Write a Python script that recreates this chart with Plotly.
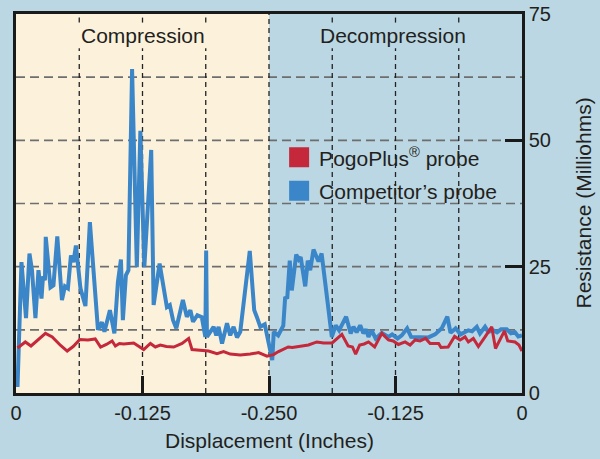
import plotly.graph_objects as go

# Travel along the stroke (inches): 0 -> 0.25 compression, 0.25 -> 0.5 decompression
blue_x = [0.0015, 0.0054, 0.0099, 0.0133, 0.0158, 0.0192, 0.0222, 0.0252, 0.0267, 0.0286,
          0.0294, 0.0341, 0.0370, 0.0408, 0.0454, 0.0484, 0.0513, 0.0543, 0.0568, 0.0592,
          0.0637, 0.0686, 0.0730, 0.0775, 0.0810, 0.0849, 0.0874, 0.0928, 0.0972, 0.1007,
          0.1037, 0.1056, 0.1086, 0.1111, 0.1147, 0.1194, 0.1229, 0.1249, 0.1268, 0.1336,
          0.1360, 0.1419, 0.1491, 0.1520, 0.1552, 0.1584, 0.1649, 0.1688, 0.1723, 0.1749,
          0.1792, 0.1836, 0.1871, 0.1879, 0.1887, 0.1920, 0.1953, 0.1979, 0.2002, 0.2036,
          0.2085, 0.2117, 0.2150, 0.2184, 0.2216, 0.2310, 0.2354, 0.2379, 0.2414, 0.2458,
          0.2493, 0.2532, 0.2547, 0.2591, 0.2641, 0.2660, 0.2680, 0.2705, 0.2725, 0.2769,
          0.2794, 0.2813, 0.2858, 0.2883, 0.2907, 0.2940, 0.2989, 0.3020, 0.3121, 0.3159,
          0.3193, 0.3262, 0.3307, 0.3335, 0.3366, 0.3401, 0.3433, 0.3460, 0.3483, 0.3514,
          0.3554, 0.3615, 0.3680, 0.3717, 0.3771, 0.3812, 0.3865, 0.3904, 0.4075, 0.4141,
          0.4207, 0.4262, 0.4294, 0.4344, 0.4393, 0.4470, 0.4506, 0.4553, 0.4585, 0.4635,
          0.4667, 0.4717, 0.4753, 0.4793, 0.4849, 0.4891, 0.4931, 0.4963, 0.5000]
blue_y = [1.2, 25.9, 14.8, 27.6, 24.3, 14.8, 24.3, 18.7, 23.1, 22.3,
          30.9, 20.9, 21.3, 31.0, 18.4, 21.1, 20.7, 27.2, 25.9, 29.2,
          20.7, 17.2, 33.8, 20.3, 12.5, 14.0, 12.1, 16.4, 11.8, 22.0,
          26.4, 14.4, 23.3, 24.3, 64.1, 24.9, 51.9, 38.1, 24.9, 48.1,
          17.4, 25.6, 17.0, 17.4, 14.4, 12.8, 18.4, 15.1, 16.4, 14.1,
          15.4, 15.0, 11.1, 28.2, 11.1, 12.1, 13.1, 11.4, 13.1, 9.8,
          13.8, 11.4, 13.1, 11.0, 12.1, 28.1, 16.4, 15.1, 13.1, 13.6,
          10.5, 6.5, 12.1, 11.4, 13.3, 19.0, 18.7, 26.2, 20.3, 27.4,
          26.4, 26.9, 21.1, 26.2, 24.3, 28.4, 26.0, 27.6, 11.1, 13.4,
          12.4, 15.1, 11.8, 13.1, 12.0, 13.4, 11.8, 12.6, 11.1, 12.4,
          10.8, 11.9, 11.1, 11.6, 10.8, 11.4, 12.8, 11.1, 11.0, 11.6,
          12.8, 15.1, 11.9, 12.8, 11.6, 12.4, 12.2, 13.1, 11.8, 13.1,
          12.1, 12.4, 12.0, 12.6, 12.6, 11.8, 12.0, 11.2, 11.4]

red_x = [0.0015, 0.0092, 0.0148, 0.0291, 0.0358, 0.0441, 0.0506, 0.0565, 0.0630, 0.0711,
         0.0783, 0.0836, 0.0893, 0.0950, 0.0982, 0.1022, 0.1064, 0.1163, 0.1262, 0.1328,
         0.1377, 0.1426, 0.1486, 0.1558, 0.1641, 0.1706, 0.1739, 0.1821, 0.1903, 0.1986,
         0.2051, 0.2117, 0.2216, 0.2315, 0.2397, 0.2480, 0.2545, 0.2594, 0.2644, 0.2690,
         0.2730, 0.2890, 0.2973, 0.3039, 0.3124, 0.3220, 0.3282, 0.3325, 0.3356, 0.3396,
         0.3440, 0.3483, 0.3544, 0.3615, 0.3680, 0.3727, 0.3779, 0.3845, 0.3894, 0.3944,
         0.3993, 0.4047, 0.4092, 0.4176, 0.4200, 0.4270, 0.4334, 0.4388, 0.4437, 0.4470,
         0.4519, 0.4569, 0.4635, 0.4701, 0.4738, 0.4827, 0.4859, 0.4931, 0.4970, 0.5000]
red_y = [8.9, 10.1, 9.3, 11.8, 11.1, 9.4, 8.3, 9.2, 10.6, 10.5,
         10.7, 9.1, 9.6, 10.3, 9.3, 9.8, 9.7, 9.9, 8.6, 9.8,
         9.1, 9.5, 9.2, 9.1, 9.8, 10.8, 8.6, 8.5, 8.3, 7.8,
         8.2, 7.7, 7.5, 7.7, 8.0, 7.3, 7.6, 8.2, 8.6, 9.1,
         9.0, 9.5, 10.1, 9.9, 9.9, 11.6, 9.3, 9.1, 7.7, 9.5,
         9.7, 10.1, 9.1, 11.8, 10.5, 10.3, 9.6, 10.1, 9.5, 10.5,
         10.3, 10.8, 9.8, 9.8, 9.0, 9.1, 11.2, 10.5, 11.1, 10.1,
         10.8, 9.2, 11.1, 13.1, 8.8, 12.3, 10.3, 10.1, 9.5, 8.3]

x_tickvals = [0, 0.125, 0.25, 0.375, 0.5]
x_ticktext = ["0", "-0.125", "-0.250", "-0.125", "0"]
y_tickvals = [0, 25, 50, 75]
h_grid = [12.5, 25, 37.5, 50, 62.5]
v_grid = [0.0625, 0.125, 0.1875, 0.3125, 0.375, 0.4375]

BG = "#bad7e3"
CREAM = "#fcf2dc"
BLUE = "#3b86c8"
RED = "#c4283a"
TXT = "#231f20"
FONT = "Liberation Sans, Arial, sans-serif"

fig = go.Figure()
fig.add_trace(go.Scatter(x=blue_x, y=blue_y, mode="lines", line=dict(color=BLUE, width=4),
                         showlegend=False, name="Competitor’s probe"))
fig.add_trace(go.Scatter(x=red_x, y=red_y, mode="lines", line=dict(color=RED, width=3),
                         showlegend=False, name="PogoPlus® probe"))
# legend keys
fig.add_trace(go.Scatter(x=[None], y=[None], mode="markers", name="PogoPlus<sup>®</sup> probe",
                         legendgroup="a",
                         marker=dict(symbol="square", size=16, color=RED, line=dict(color=RED, width=4))))
fig.add_trace(go.Scatter(x=[None], y=[None], mode="markers", name="Competitor’s probe",
                         legendgroup="b",
                         marker=dict(symbol="square", size=16, color=BLUE, line=dict(color=BLUE, width=4))))

shapes = [dict(type="rect", xref="x", yref="y", x0=0, x1=0.25, y0=0, y1=75,
               fillcolor=CREAM, line=dict(width=0), layer="below")]
for yv in h_grid:
    shapes.append(dict(type="line", xref="x", yref="y", x0=0, x1=0.5, y0=yv, y1=yv,
                       line=dict(color="#6e6e6e", width=1.6, dash="9px,5px"), layer="below"))
for xv in v_grid:
    shapes.append(dict(type="line", xref="x", yref="y", x0=xv, x1=xv, y0=0, y1=68.2,
                       line=dict(color="#222222", width=1.3, dash="5px,4px"), layer="below"))
    shapes.append(dict(type="line", xref="x", yref="y", x0=xv, x1=xv, y0=73.3, y1=75,
                       line=dict(color="#222222", width=1.3, dash="5px,4px"), layer="below"))
shapes.append(dict(type="line", xref="x", yref="y", x0=0.25, x1=0.25, y0=0, y1=75,
                   line=dict(color="#222222", width=1.3, dash="5px,4px"), layer="below"))

annotations = [
    dict(text="Compression", x=0.125, y=70.7, xref="x", yref="y", showarrow=False,
         font=dict(size=21, color=TXT, family=FONT)),
    dict(text="Decompression", x=0.373, y=70.7, xref="x", yref="y", showarrow=False,
         font=dict(size=21, color=TXT, family=FONT)),
    dict(text="Displacement (Inches)", x=0.25, y=0, xref="x", yref="paper", showarrow=False,
         yanchor="middle", yshift=-47, font=dict(size=21, color=TXT, family=FONT)),
    dict(text="Resistance (Milliohms)", x=1, y=37.5, xref="paper", yref="y", showarrow=False,
         xanchor="center", xshift=61, textangle=-90, font=dict(size=21, color=TXT, family=FONT)),
]

fig.update_layout(
    width=600, height=459,
    margin=dict(l=16, r=78, t=14, b=66, autoexpand=False),
    paper_bgcolor=BG, plot_bgcolor=BG,
    font=dict(family=FONT, color=TXT, size=20),
    shapes=shapes, annotations=annotations,
    legend=dict(x=0.52, y=0.675, xanchor="left", yanchor="top", bgcolor="rgba(0,0,0,0)",
                font=dict(size=21, color=TXT, family=FONT), tracegroupgap=3),
    xaxis=dict(range=[0, 0.5], tickvals=x_tickvals, ticktext=x_ticktext, showgrid=False,
               zeroline=False, showline=True, linecolor="#1a1a1a", linewidth=2.5, mirror=True,
               ticks="inside", ticklen=17, tickwidth=3, tickcolor="#1a1a1a", automargin=False,
               tickfont=dict(size=20, color=TXT, family=FONT)),
    yaxis=dict(range=[0, 75], tickvals=y_tickvals, side="right", showgrid=False,
               zeroline=False, showline=True, linecolor="#1a1a1a", linewidth=2.5, mirror=True,
               ticks="inside", ticklen=17, tickwidth=3, tickcolor="#1a1a1a", automargin=False,
               tickfont=dict(size=20, color=TXT, family=FONT)),
)

fig.write_html("out.html", config={"displayModeBar": False},
               post_script="document.body.style.margin='0';document.body.style.padding='0';"
                           "document.body.style.background='" + BG + "';")
